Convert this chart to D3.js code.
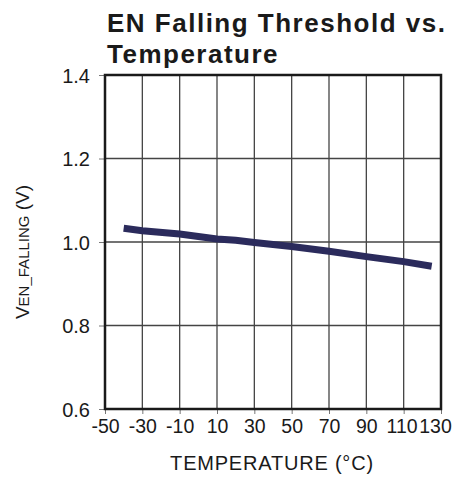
<!DOCTYPE html>
<html>
<head>
<meta charset="utf-8">
<script src="https://cdn.jsdelivr.net/npm/d3@7"></script>
<style>
  body { margin: 0; background: #fff; }
  svg { display: block; font-family: "Liberation Sans", Arial, sans-serif; }
</style>
</head>
<body>
<svg id="chart" width="455" height="479"></svg>
<script>
// EN falling threshold across the temperature range
const temperature = [-40, -30, -10, 10, 20, 30, 50, 70, 90, 110, 125];
const thresholdV  = [1.033, 1.027, 1.019, 1.007, 1.004, 0.999, 0.989, 0.978, 0.965, 0.953, 0.942];
const xTicks = [-50, -30, -10, 10, 30, 50, 70, 90, 110, 130];
const yTicks = [0.6, 0.8, 1.0, 1.2, 1.4];

const svg = d3.select("#chart");
const m = { left: 105, right: 441, top: 75, bottom: 409 };

const x = d3.scaleLinear().domain([-50, 130]).range([m.left, m.right]);
const y = d3.scaleLinear().domain([0.6, 1.4]).range([m.bottom, m.top]);

// Gridlines
svg.append("g").selectAll("line").data(xTicks.slice(1, -1)).join("line")
  .attr("x1", d => x(d)).attr("x2", d => x(d))
  .attr("y1", m.top).attr("y2", m.bottom)
  .attr("stroke", "#444").attr("stroke-width", 1.3);
svg.append("g").selectAll("line").data(yTicks.slice(1, -1)).join("line")
  .attr("x1", m.left).attr("x2", m.right)
  .attr("y1", d => y(d)).attr("y2", d => y(d))
  .attr("stroke", "#444").attr("stroke-width", 1.3);

// Axes
const xAxis = svg.append("g").attr("transform", `translate(0,${m.bottom})`)
  .call(d3.axisBottom(x).tickValues(xTicks).tickFormat(d => String(d)).tickSize(5).tickSizeOuter(0));
const yAxis = svg.append("g").attr("transform", `translate(${m.left},0)`)
  .call(d3.axisLeft(y).tickValues(yTicks).tickFormat(d3.format(".1f")).tickSize(6).tickSizeOuter(0));
[xAxis, yAxis].forEach(a => {
  a.select(".domain").remove();
  a.selectAll(".tick line").attr("stroke", "#777").attr("stroke-width", 1);
  a.selectAll(".tick text").attr("fill", "#1a1a1a").style("font-size", "19.5px");
});
xAxis.selectAll(".tick text").attr("dy", "0.71em").attr("y", 10)
  .attr("dx", d => d === 130 ? -6 : (d === 110 ? -2 : 0));
yAxis.selectAll(".tick text").attr("x", -15).attr("dy", "0.36em").style("font-size", "20px");

// Plot frame
svg.append("rect")
  .attr("x", m.left).attr("y", m.top)
  .attr("width", m.right - m.left).attr("height", m.bottom - m.top)
  .attr("fill", "none").attr("stroke", "#1a1a1a").attr("stroke-width", 2.5);

// Data line
svg.append("path")
  .datum(temperature.map((t, i) => [t, thresholdV[i]]))
  .attr("fill", "none").attr("stroke", "#2b2b5c").attr("stroke-width", 7)
  .attr("d", d3.line().x(d => x(d[0])).y(d => y(d[1])));

// Title
const title = svg.append("text").attr("x", 107).attr("fill", "#1a1a1a")
  .style("font-size", "26px").style("font-weight", "bold").style("letter-spacing", "1.5px");
title.append("tspan").attr("x", 107).attr("y", 32).text("EN Falling Threshold vs.");
title.append("tspan").attr("x", 107).attr("y", 63).text("Temperature");

// Axis titles
svg.append("text").attr("x", 272).attr("y", 470).attr("text-anchor", "middle")
  .attr("fill", "#1a1a1a").style("font-size", "20px").style("letter-spacing", "0.8px")
  .text("TEMPERATURE (°C)");

const yt = svg.append("text").attr("text-anchor", "middle")
  .attr("transform", `translate(29,252) rotate(-90)`)
  .attr("fill", "#1a1a1a").style("font-size", "19px");
yt.append("tspan").text("V");
yt.append("tspan").style("font-size", "15px").text("EN_FALLING");
yt.append("tspan").text(" (V)");
</script>
</body>
</html>
